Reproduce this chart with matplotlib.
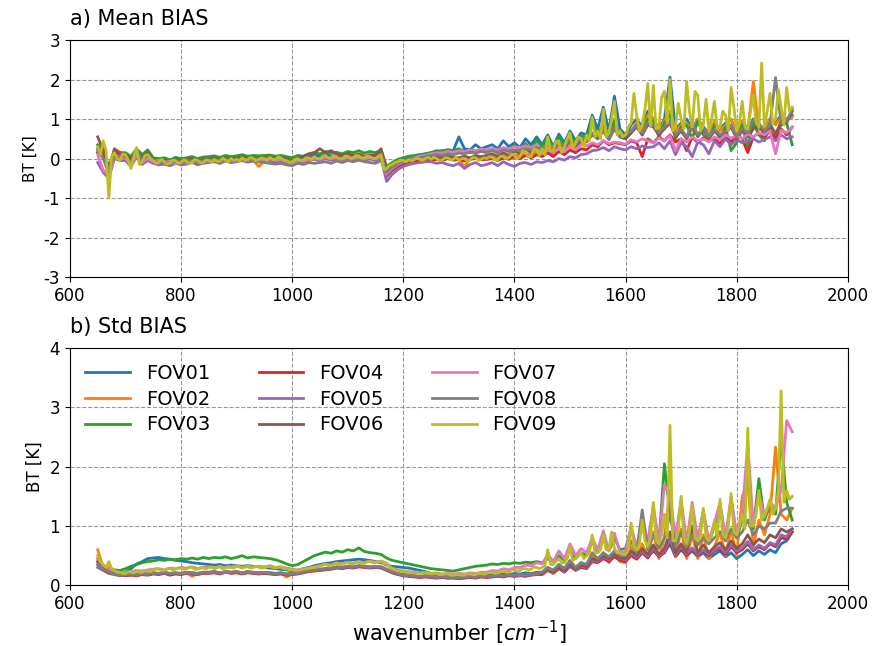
import numpy as np
import matplotlib
matplotlib.use("Agg")
import matplotlib.pyplot as plt

plt.rcParams['axes.unicode_minus'] = False

# spectral channels, cm-1 (FOV09 is kept at full resolution)
wavenumber = np.arange(650, 1901, 10)
wavenumber_fine = np.arange(650, 1901, 5)

fov_names = ['FOV01', 'FOV02', 'FOV03', 'FOV04', 'FOV05',
             'FOV06', 'FOV07', 'FOV08', 'FOV09']

# mean O-B bias per FOV [K]
mean_fov01 = [0.25, 0.15, -0.35, 0.12, 0.08, 0.10, -0.05, 0.18, 0.00, 0.15,
              -0.02, -0.06, -0.04, -0.08, -0.02, -0.06, -0.03, 0.00, -0.05, -0.02,
              -0.02, 0.02, -0.03, 0.03, 0.00, 0.02, 0.05, 0.00, 0.03, 0.02,
              0.04, 0.06, 0.01, 0.04, 0.00, -0.04, 0.03, 0.00, 0.06, 0.10,
              0.05, 0.12, 0.06, 0.09, 0.04, 0.10, 0.06, 0.10, 0.05, 0.08,
              0.05, 0.15, -0.28, -0.15, -0.08, -0.04, 0.02, 0.06, 0.10, 0.12,
              0.15, 0.20, 0.18, 0.22, 0.20, 0.55, 0.25, 0.22, 0.35, 0.25,
              0.30, 0.35, 0.25, 0.45, 0.30, 0.40, 0.28, 0.50, 0.35, 0.55,
              0.35, 0.60, 0.30, 0.62, 0.40, 0.70, 0.45, 0.65, 0.60, 1.10,
              0.75, 1.30, 0.70, 1.58, 0.75, 0.60, 0.85, 1.00, 0.80, 1.20,
              1.00, 0.75, 1.00, 2.06, 0.75, 0.90, 1.00, 0.75, 1.00, 0.80,
              0.65, 0.90, 0.75, 0.90, 1.00, 0.65, 0.95, 0.75, 1.00, 0.75,
              0.75, 1.00, 0.90, 1.10, 1.00, 1.10]
mean_fov02 = [0.20, 0.05, -0.45, 0.05, 0.00, 0.05, -0.15, 0.20, -0.10, 0.05,
              -0.10, -0.15, -0.12, -0.18, -0.10, -0.14, -0.12, -0.08, -0.16, -0.10,
              -0.08, -0.05, -0.12, -0.04, -0.10, -0.06, -0.02, -0.08, -0.05, -0.20,
              -0.06, -0.03, -0.08, -0.04, -0.10, -0.14, -0.06, -0.10, -0.04, 0.00,
              -0.04, 0.02, -0.02, 0.00, -0.05, 0.02, -0.03, 0.00, -0.04, 0.00,
              -0.04, 0.05, -0.35, -0.25, -0.15, -0.10, -0.06, -0.04, -0.02, 0.00,
              0.00, 0.02, -0.02, 0.04, 0.00, 0.02, -0.22, 0.00, 0.04, 0.02,
              0.04, 0.06, 0.00, 0.08, 0.03, 0.10, 0.06, 0.14, 0.08, 0.18,
              0.12, 0.25, 0.10, 0.30, 0.18, 0.38, 0.25, 0.42, 0.45, 0.95,
              0.60, 0.90, 0.55, 1.00, 0.60, 0.55, 0.70, 0.90, 0.75, 1.10,
              1.00, 0.70, 0.95, 1.20, 0.70, 0.85, 0.90, 0.70, 1.00, 0.75,
              0.60, 0.95, 0.70, 0.85, 1.00, 0.60, 0.95, 0.70, 1.95, 0.75,
              0.70, 1.00, 0.85, 1.05, 1.00, 1.05]
mean_fov03 = [0.35, 0.20, -0.20, 0.20, 0.15, 0.15, 0.05, 0.25, 0.10, 0.22,
              0.02, 0.00, 0.02, -0.03, 0.03, 0.00, 0.02, 0.05, 0.00, 0.04,
              0.05, 0.07, 0.03, 0.08, 0.05, 0.07, 0.10, 0.06, 0.08, 0.07,
              0.08, 0.09, 0.06, 0.08, 0.05, 0.02, 0.08, 0.06, 0.12, 0.15,
              0.12, 0.18, 0.14, 0.16, 0.12, 0.18, 0.15, 0.20, 0.14, 0.18,
              0.15, 0.22, -0.20, -0.10, -0.02, 0.02, 0.06, 0.08, 0.10, 0.12,
              0.15, 0.18, 0.20, 0.22, 0.20, 0.25, 0.18, 0.15, 0.20, 0.18,
              0.16, 0.22, 0.15, 0.25, 0.18, 0.35, 0.20, 0.38, 0.25, 0.45,
              0.30, 0.52, 0.30, 0.55, 0.35, 0.60, 0.40, 0.58, 0.52, 1.00,
              0.55, 0.85, 0.50, 0.95, 0.55, 0.50, 0.65, 0.85, 0.60, 1.00,
              0.95, 0.55, 0.90, 1.10, 0.50, 0.80, 0.85, 0.50, 0.95, 0.60,
              0.45, 0.85, 0.50, 0.80, 0.20, 0.40, 0.85, 0.30, 0.90, 0.60,
              0.45, 0.90, 0.60, 0.95, 0.90, 0.35]
mean_fov04 = [0.15, 0.25, -0.40, 0.20, 0.10, 0.05, -0.10, 0.15, -0.05, 0.08,
              -0.05, -0.08, -0.06, -0.10, -0.04, -0.08, -0.06, -0.03, -0.08, -0.04,
              -0.04, -0.02, -0.06, 0.00, -0.04, -0.02, 0.02, -0.03, 0.00, -0.02,
              0.00, 0.02, -0.03, 0.00, -0.06, -0.10, -0.02, -0.05, 0.00, 0.03,
              0.00, 0.06, 0.02, 0.04, 0.00, 0.05, 0.02, 0.06, 0.02, 0.05,
              0.02, 0.08, -0.45, -0.30, -0.20, -0.14, -0.10, -0.08, -0.06, -0.04,
              -0.04, -0.02, -0.05, 0.00, -0.04, -0.02, -0.06, -0.02, 0.00, -0.03,
              -0.02, 0.00, -0.05, 0.02, -0.02, 0.05, 0.00, 0.08, 0.02, 0.10,
              0.05, 0.15, 0.05, 0.18, 0.10, 0.22, 0.15, 0.25, 0.22, 0.35,
              0.30, 0.45, 0.35, 0.40, 0.38, 0.35, 0.45, 0.40, 0.05, 0.50,
              0.40, 0.55, 0.45, 0.60, 0.42, 0.50, 0.20, 0.55, 0.40, 0.52,
              0.45, 0.50, 0.38, 0.55, 0.42, 0.60, 0.50, 0.15, 0.55, 0.65,
              0.55, 0.70, 0.50, 0.75, 0.60, 0.80]
mean_fov05 = [-0.10, -0.35, -0.50, 0.00, -0.05, -0.05, -0.20, 0.05, -0.15, -0.05,
              -0.12, -0.16, -0.14, -0.18, -0.12, -0.16, -0.14, -0.10, -0.15, -0.12,
              -0.10, -0.08, -0.12, -0.06, -0.10, -0.08, -0.05, -0.09, -0.06, -0.08,
              -0.06, -0.05, -0.09, -0.06, -0.12, -0.15, -0.08, -0.10, -0.05, -0.02,
              -0.05, 0.00, -0.04, -0.02, -0.06, 0.00, -0.03, 0.01, -0.04, -0.01,
              -0.05, 0.00, -0.58, -0.40, -0.28, -0.20, -0.15, -0.12, -0.10, -0.08,
              -0.08, -0.12, -0.10, -0.15, -0.18, -0.12, -0.25, -0.15, -0.10, -0.18,
              -0.15, -0.10, -0.18, -0.08, -0.15, -0.20, -0.12, -0.10, -0.15, -0.08,
              -0.10, -0.05, -0.08, 0.00, -0.04, 0.05, 0.02, 0.10, 0.12, 0.20,
              0.22, 0.28, 0.20, 0.30, 0.25, 0.22, 0.30, 0.25, 0.32, 0.28,
              0.30, 0.40, 0.25, 0.45, 0.10, 0.40, 0.30, 0.05, 0.42, 0.35,
              0.12, 0.45, 0.30, 0.50, 0.35, 0.48, 0.40, 0.45, 0.50, 0.42,
              0.48, 0.55, 0.45, 0.60, 0.50, 0.55]
mean_fov06 = [0.55, 0.20, -0.30, 0.25, 0.15, 0.10, 0.00, 0.20, 0.05, 0.15,
              -0.03, -0.06, -0.04, -0.08, -0.02, -0.06, -0.03, 0.00, -0.05, -0.02,
              -0.02, 0.01, -0.03, 0.02, -0.01, 0.01, 0.04, 0.00, 0.02, 0.01,
              0.02, 0.04, 0.00, 0.03, -0.02, -0.05, 0.02, 0.05, 0.12, 0.15,
              0.25, 0.15, 0.20, 0.12, 0.08, 0.12, 0.08, 0.12, 0.06, 0.10,
              0.08, 0.25, -0.30, -0.18, -0.10, -0.06, -0.03, 0.00, 0.02, 0.04,
              0.04, 0.06, 0.02, 0.07, 0.04, 0.02, 0.06, 0.02, 0.08, 0.05,
              0.08, 0.12, 0.06, 0.15, 0.08, 0.20, 0.12, 0.25, 0.15, 0.30,
              0.20, 0.35, 0.22, 0.40, 0.28, 0.45, 0.32, 0.45, 0.42, 0.60,
              0.50, 0.70, 0.48, 0.75, 0.55, 0.50, 0.65, 0.80, 0.60, 0.85,
              0.80, 0.60, 0.75, 0.90, 0.55, 0.70, 0.50, 0.85, 0.55, 0.75,
              0.50, 0.70, 0.55, 0.65, 0.80, 0.50, 0.70, 0.55, 0.75, 0.85,
              0.60, 0.80, 0.65, 0.85, 0.90, 1.20]
mean_fov07 = [0.10, -0.30, -0.40, 0.05, 0.00, 0.02, -0.15, 0.10, -0.10, 0.00,
              -0.08, -0.04, -0.10, -0.06, -0.12, -0.08, -0.05, -0.10, -0.06, -0.08,
              -0.06, -0.04, -0.08, -0.03, -0.06, -0.04, -0.01, -0.05, -0.02, -0.04,
              -0.02, 0.00, -0.04, -0.02, -0.08, -0.12, -0.04, -0.06, -0.02, 0.02,
              -0.02, 0.04, 0.00, 0.02, -0.02, 0.04, 0.00, 0.04, 0.00, 0.03,
              0.00, 0.06, -0.40, -0.25, -0.15, -0.08, -0.02, 0.02, 0.06, 0.08,
              0.12, 0.15, 0.14, 0.18, 0.16, 0.20, 0.18, 0.22, 0.20, 0.24,
              0.22, 0.26, 0.22, 0.28, 0.25, 0.30, 0.28, 0.32, 0.28, 0.35,
              0.12, 0.22, 0.15, 0.25, 0.18, 0.30, 0.22, 0.35, 0.32, 0.40,
              0.35, 0.45, 0.38, 0.42, 0.40, 0.36, 0.48, 0.42, 0.50, 0.45,
              0.40, 0.52, 0.45, 0.58, 0.20, 0.50, 0.42, 0.55, 0.45, 0.50,
              0.42, 0.55, 0.48, 0.60, 0.52, 0.58, 0.50, 0.62, 0.55, 0.65,
              0.60, 0.70, 0.12, 0.72, 0.65, 0.80]
mean_fov08 = [0.20, 0.00, -0.35, 0.10, 0.05, 0.05, -0.10, 0.20, -0.05, 0.10,
              -0.06, -0.10, -0.08, -0.12, -0.06, -0.10, -0.08, -0.05, -0.10, -0.06,
              -0.06, -0.04, -0.08, -0.02, -0.06, -0.04, -0.02, -0.06, -0.04, -0.08,
              -0.10, -0.12, -0.14, -0.12, -0.16, -0.18, -0.12, -0.15, -0.10, -0.12,
              -0.10, -0.08, -0.12, -0.06, -0.10, -0.05, -0.08, -0.04, -0.08, -0.10,
              -0.12, -0.05, -0.35, -0.22, -0.12, -0.06, -0.02, 0.00, 0.02, 0.05,
              0.08, 0.10, 0.08, 0.12, 0.10, 0.14, 0.12, 0.16, 0.14, 0.18,
              0.16, 0.20, 0.15, 0.22, 0.18, 0.22, 0.20, 0.25, 0.22, 0.28,
              0.25, 0.40, 0.28, 0.42, 0.32, 0.48, 0.35, 0.50, 0.45, 0.65,
              0.55, 0.75, 0.50, 0.80, 0.55, 0.60, 0.70, 0.85, 0.65, 0.90,
              0.85, 0.65, 0.80, 0.95, 0.60, 0.75, 0.55, 0.90, 0.60, 0.80,
              0.55, 0.75, 0.60, 0.70, 0.85, 0.55, 0.75, 0.65, 1.00, 0.90,
              0.70, 0.85, 2.05, 0.90, 0.95, 1.25]
mean_fov09 = [0.30, 0.10, 0.45, 0.20, -1.00, 0.05, 0.15, 0.00, -0.05, 0.12,
              0.10, -0.05, -0.25, 0.05, 0.28, -0.15, -0.08, 0.08, 0.10, 0.00,
              -0.05, -0.12, -0.10, -0.02, -0.08, -0.14, -0.12, -0.04, -0.05, -0.12,
              -0.10, -0.03, -0.08, -0.13, -0.08, -0.02, -0.05, -0.11, -0.10, -0.03,
              -0.05, -0.09, -0.02, -0.07, -0.06, 0.01, -0.04, -0.08, 0.00, -0.05,
              -0.02, -0.07, 0.02, -0.04, -0.03, 0.03, 0.00, -0.06, -0.02, 0.02,
              0.00, -0.05, 0.03, -0.02, -0.02, 0.04, 0.02, -0.04, -0.05, -0.09,
              -0.08, -0.02, 0.00, -0.05, -0.03, 0.02, 0.02, -0.03, 0.05, 0.00,
              0.00, 0.06, 0.08, 0.01, 0.02, 0.07, 0.05, -0.01, 0.00, 0.06,
              0.06, 0.00, 0.03, 0.08, 0.07, 0.01, 0.02, 0.07, 0.05, 0.00,
              0.00, 0.06, 0.10, -0.28, -0.25, -0.18, -0.15, -0.10, -0.08, -0.04,
              -0.05, -0.08, -0.03, -0.06, -0.02, 0.01, -0.02, -0.04, 0.00, 0.03,
              -0.02, 0.03, 0.00, -0.05, -0.04, 0.02, 0.02, -0.03, -0.02, 0.04,
              -0.05, 0.00, 0.00, -0.06, -0.04, 0.03, 0.02, -0.04, -0.02, 0.02,
              0.00, 0.05, 0.03, -0.03, -0.03, 0.06, 0.05, 0.00, 0.02, 0.12,
              0.08, 0.00, 0.05, 0.20, 0.15, 0.05, 0.05, 0.25, 0.22, 0.08,
              0.25, 0.10, 0.55, 0.20, 0.20, 0.45, 0.40, 0.15, 0.30, 0.50,
              0.65, 0.25, 0.40, 0.55, 0.50, 0.30, 0.60, 0.45, 1.05, 0.55,
              0.70, 0.50, 1.25, 0.55, 0.65, 1.00, 1.45, 0.60, 0.70, 0.55,
              0.60, 0.80, 0.90, 1.65, 1.10, 0.70, 0.85, 1.25, 1.90, 0.80,
              1.85, 0.75, 0.80, 1.55, 1.70, 0.90, 2.00, 0.70, 0.80, 1.40,
              1.00, 0.75, 1.95, 1.20, 0.80, 1.70, 1.60, 0.70, 0.85, 1.50,
              0.70, 1.00, 1.45, 0.75, 0.80, 1.20, 1.10, 0.70, 1.80, 1.30,
              0.70, 0.90, 1.45, 0.80, 0.75, 1.20, 1.60, 0.90, 0.80, 2.42,
              0.80, 1.20, 1.65, 0.90, 1.00, 1.75, 1.30, 0.85, 1.80, 1.20,
              1.30]

# standard deviation of O-B per FOV [K]
std_fov01 = [0.35, 0.28, 0.25, 0.22, 0.20, 0.22, 0.28, 0.36, 0.40, 0.45,
             0.46, 0.47, 0.45, 0.44, 0.42, 0.41, 0.40, 0.38, 0.37, 0.36,
             0.35, 0.34, 0.35, 0.33, 0.34, 0.33, 0.32, 0.33, 0.32, 0.31,
             0.30, 0.29, 0.28, 0.27, 0.26, 0.24, 0.25, 0.28, 0.30, 0.33,
             0.35, 0.37, 0.38, 0.40, 0.41, 0.42, 0.43, 0.44, 0.43, 0.42,
             0.40, 0.38, 0.34, 0.32, 0.31, 0.30, 0.29, 0.27, 0.25, 0.23,
             0.20, 0.18, 0.17, 0.16, 0.15, 0.15, 0.16, 0.15, 0.16, 0.17,
             0.17, 0.18, 0.17, 0.19, 0.18, 0.20, 0.19, 0.21, 0.20, 0.22,
             0.22, 0.30, 0.25, 0.35, 0.28, 0.40, 0.30, 0.38, 0.35, 0.50,
             0.40, 0.48, 0.42, 0.50, 0.45, 0.42, 0.52, 0.45, 0.55, 0.48,
             0.58, 0.50, 0.55, 0.70, 0.48, 0.60, 0.50, 0.58, 0.48, 0.55,
             0.45, 0.52, 0.58, 0.48, 0.55, 0.45, 0.52, 0.60, 0.50, 0.58,
             0.52, 0.60, 0.55, 0.70, 0.75, 0.90]
std_fov02 = [0.60, 0.30, 0.25, 0.20, 0.18, 0.17, 0.18, 0.17, 0.19, 0.18,
             0.20, 0.19, 0.21, 0.18, 0.20, 0.19, 0.21, 0.15, 0.20, 0.22,
             0.21, 0.22, 0.20, 0.23, 0.21, 0.22, 0.20, 0.22, 0.21, 0.20,
             0.21, 0.20, 0.19, 0.20, 0.14, 0.19, 0.20, 0.22, 0.24, 0.25,
             0.26, 0.27, 0.28, 0.30, 0.29, 0.31, 0.30, 0.32, 0.31, 0.30,
             0.31, 0.30, 0.26, 0.22, 0.19, 0.17, 0.16, 0.15, 0.14, 0.15,
             0.14, 0.13, 0.14, 0.12, 0.13, 0.12, 0.13, 0.14, 0.13, 0.15,
             0.14, 0.15, 0.16, 0.15, 0.17, 0.16, 0.18, 0.17, 0.19, 0.20,
             0.20, 0.28, 0.22, 0.32, 0.25, 0.40, 0.28, 0.36, 0.32, 0.50,
             0.40, 0.55, 0.38, 0.52, 0.40, 0.38, 0.65, 0.45, 0.70, 0.48,
             0.90, 0.45, 0.80, 1.60, 0.48, 0.95, 0.45, 0.85, 0.45, 0.85,
             0.45, 0.65, 0.90, 0.50, 0.95, 0.50, 1.50, 1.70, 0.65, 1.10,
             0.85, 1.20, 2.33, 1.20, 1.10, 1.30]
std_fov03 = [0.45, 0.32, 0.30, 0.26, 0.25, 0.28, 0.32, 0.35, 0.38, 0.40,
             0.41, 0.43, 0.42, 0.44, 0.43, 0.45, 0.44, 0.46, 0.44, 0.47,
             0.45, 0.47, 0.46, 0.48, 0.45, 0.47, 0.50, 0.46, 0.48, 0.47,
             0.46, 0.45, 0.43, 0.40, 0.36, 0.33, 0.35, 0.40, 0.45, 0.50,
             0.53, 0.56, 0.54, 0.58, 0.56, 0.60, 0.58, 0.63, 0.57, 0.55,
             0.54, 0.52, 0.46, 0.42, 0.40, 0.38, 0.36, 0.34, 0.32, 0.30,
             0.28, 0.27, 0.26, 0.25, 0.24, 0.26, 0.28, 0.30, 0.32, 0.33,
             0.34, 0.36, 0.35, 0.37, 0.36, 0.38, 0.37, 0.39, 0.38, 0.40,
             0.38, 0.45, 0.40, 0.50, 0.42, 0.60, 0.45, 0.55, 0.50, 0.75,
             0.55, 0.78, 0.58, 0.80, 0.60, 0.62, 0.95, 0.65, 1.00, 0.70,
             1.30, 0.70, 2.05, 1.20, 0.75, 1.40, 0.70, 1.30, 0.75, 1.25,
             0.70, 1.00, 1.35, 0.75, 1.45, 0.80, 1.10, 2.00, 0.95, 1.80,
             1.10, 1.35, 1.20, 2.50, 1.40, 1.10]
std_fov04 = [0.40, 0.28, 0.22, 0.19, 0.17, 0.16, 0.17, 0.16, 0.18, 0.17,
             0.19, 0.18, 0.20, 0.17, 0.19, 0.18, 0.20, 0.19, 0.18, 0.20,
             0.20, 0.21, 0.19, 0.22, 0.20, 0.21, 0.19, 0.21, 0.20, 0.19,
             0.20, 0.19, 0.18, 0.19, 0.17, 0.18, 0.19, 0.21, 0.23, 0.24,
             0.25, 0.26, 0.27, 0.29, 0.28, 0.30, 0.29, 0.31, 0.30, 0.29,
             0.30, 0.29, 0.25, 0.21, 0.18, 0.16, 0.15, 0.14, 0.13, 0.14,
             0.13, 0.12, 0.13, 0.12, 0.12, 0.11, 0.12, 0.13, 0.12, 0.14,
             0.13, 0.14, 0.15, 0.14, 0.16, 0.15, 0.16, 0.15, 0.17, 0.18,
             0.18, 0.25, 0.20, 0.28, 0.22, 0.32, 0.25, 0.30, 0.28, 0.40,
             0.38, 0.45, 0.40, 0.48, 0.42, 0.40, 0.50, 0.44, 0.55, 0.46,
             0.60, 0.48, 0.55, 0.75, 0.50, 0.62, 0.50, 0.60, 0.50, 0.58,
             0.50, 0.58, 0.62, 0.52, 0.65, 0.55, 0.60, 0.70, 0.58, 0.65,
             0.60, 0.70, 0.65, 0.80, 0.78, 0.90]
std_fov05 = [0.30, 0.25, 0.20, 0.18, 0.16, 0.17, 0.18, 0.17, 0.19, 0.18,
             0.20, 0.19, 0.21, 0.19, 0.20, 0.19, 0.21, 0.20, 0.19, 0.21,
             0.21, 0.22, 0.20, 0.22, 0.21, 0.22, 0.20, 0.22, 0.21, 0.20,
             0.21, 0.20, 0.19, 0.20, 0.18, 0.19, 0.20, 0.22, 0.24, 0.25,
             0.26, 0.27, 0.28, 0.30, 0.29, 0.31, 0.30, 0.32, 0.31, 0.30,
             0.31, 0.30, 0.26, 0.22, 0.19, 0.17, 0.16, 0.15, 0.14, 0.15,
             0.14, 0.13, 0.14, 0.13, 0.13, 0.12, 0.13, 0.14, 0.13, 0.15,
             0.14, 0.15, 0.16, 0.15, 0.17, 0.16, 0.17, 0.16, 0.18, 0.19,
             0.19, 0.26, 0.21, 0.30, 0.23, 0.34, 0.26, 0.32, 0.30, 0.42,
             0.40, 0.48, 0.43, 0.52, 0.45, 0.43, 0.54, 0.47, 0.58, 0.49,
             0.63, 0.50, 0.58, 0.78, 0.52, 0.65, 0.53, 0.63, 0.52, 0.60,
             0.52, 0.60, 0.65, 0.55, 0.68, 0.58, 0.63, 0.74, 0.60, 0.68,
             0.62, 0.72, 0.68, 0.85, 0.82, 0.95]
std_fov06 = [0.40, 0.26, 0.21, 0.19, 0.17, 0.18, 0.19, 0.18, 0.20, 0.19,
             0.21, 0.20, 0.22, 0.20, 0.21, 0.20, 0.22, 0.21, 0.20, 0.22,
             0.22, 0.23, 0.21, 0.23, 0.22, 0.23, 0.21, 0.23, 0.22, 0.21,
             0.22, 0.21, 0.20, 0.21, 0.19, 0.20, 0.21, 0.23, 0.25, 0.26,
             0.27, 0.28, 0.29, 0.31, 0.30, 0.32, 0.31, 0.33, 0.32, 0.31,
             0.32, 0.31, 0.27, 0.23, 0.20, 0.18, 0.17, 0.16, 0.15, 0.16,
             0.15, 0.14, 0.15, 0.14, 0.14, 0.13, 0.14, 0.15, 0.14, 0.16,
             0.15, 0.16, 0.17, 0.16, 0.18, 0.17, 0.18, 0.17, 0.19, 0.20,
             0.20, 0.27, 0.22, 0.31, 0.24, 0.36, 0.27, 0.34, 0.31, 0.45,
             0.42, 0.50, 0.45, 0.52, 0.46, 0.45, 0.58, 0.50, 0.62, 0.52,
             0.68, 0.52, 0.62, 0.90, 0.55, 0.70, 0.55, 1.00, 0.55, 0.68,
             0.55, 0.65, 0.72, 0.60, 0.75, 0.62, 0.70, 0.85, 0.68, 0.78,
             0.72, 0.85, 0.80, 0.95, 0.90, 0.95]
std_fov07 = [0.45, 0.33, 0.30, 0.24, 0.22, 0.21, 0.23, 0.25, 0.24, 0.26,
             0.27, 0.28, 0.26, 0.29, 0.28, 0.30, 0.29, 0.31, 0.28, 0.30,
             0.31, 0.29, 0.32, 0.30, 0.31, 0.33, 0.30, 0.32, 0.31, 0.32,
             0.31, 0.33, 0.30, 0.31, 0.29, 0.27, 0.26, 0.28, 0.29, 0.31,
             0.33, 0.36, 0.34, 0.38, 0.36, 0.39, 0.37, 0.40, 0.38, 0.41,
             0.39, 0.41, 0.37, 0.29, 0.26, 0.24, 0.23, 0.22, 0.21, 0.22,
             0.20, 0.21, 0.19, 0.20, 0.19, 0.20, 0.19, 0.21, 0.20, 0.22,
             0.22, 0.25, 0.24, 0.28, 0.26, 0.30, 0.30, 0.34, 0.33, 0.38,
             0.36, 0.52, 0.40, 0.58, 0.45, 0.70, 0.50, 0.62, 0.55, 0.80,
             0.60, 0.92, 0.58, 0.88, 0.55, 0.56, 1.00, 0.62, 1.15, 0.72,
             1.35, 0.70, 1.70, 1.50, 0.80, 1.45, 0.72, 1.40, 0.75, 1.25,
             0.75, 1.05, 1.40, 0.80, 1.50, 0.85, 1.20, 2.40, 1.00, 1.55,
             1.15, 1.40, 1.30, 1.60, 2.78, 2.59]
std_fov08 = [0.35, 0.27, 0.22, 0.19, 0.17, 0.18, 0.19, 0.18, 0.20, 0.19,
             0.21, 0.20, 0.22, 0.20, 0.21, 0.20, 0.22, 0.21, 0.20, 0.22,
             0.22, 0.23, 0.21, 0.23, 0.22, 0.23, 0.21, 0.23, 0.22, 0.21,
             0.22, 0.21, 0.20, 0.21, 0.19, 0.20, 0.21, 0.23, 0.25, 0.26,
             0.27, 0.28, 0.29, 0.31, 0.30, 0.32, 0.31, 0.33, 0.32, 0.31,
             0.32, 0.31, 0.27, 0.23, 0.20, 0.18, 0.17, 0.16, 0.15, 0.16,
             0.15, 0.14, 0.15, 0.14, 0.14, 0.13, 0.14, 0.15, 0.14, 0.16,
             0.15, 0.16, 0.17, 0.16, 0.18, 0.17, 0.18, 0.17, 0.19, 0.20,
             0.22, 0.30, 0.25, 0.35, 0.28, 0.42, 0.30, 0.38, 0.35, 0.55,
             0.45, 0.55, 0.48, 0.58, 0.50, 0.50, 0.75, 0.55, 1.27, 0.60,
             0.85, 0.62, 0.80, 1.20, 0.65, 0.90, 0.65, 0.85, 0.68, 0.80,
             0.70, 0.80, 0.90, 0.75, 0.95, 0.80, 0.90, 1.10, 0.85, 1.00,
             0.95, 1.05, 1.05, 1.25, 1.30, 1.30]
std_fov09 = [0.50, 0.40, 0.35, 0.30, 0.40, 0.28, 0.25, 0.22, 0.22, 0.20,
             0.20, 0.23, 0.22, 0.21, 0.24, 0.22, 0.22, 0.25, 0.25, 0.23,
             0.26, 0.28, 0.27, 0.25, 0.25, 0.28, 0.28, 0.26, 0.27, 0.29,
             0.29, 0.27, 0.28, 0.31, 0.30, 0.27, 0.27, 0.30, 0.29, 0.28,
             0.30, 0.31, 0.28, 0.30, 0.31, 0.28, 0.29, 0.32, 0.30, 0.29,
             0.32, 0.31, 0.29, 0.31, 0.31, 0.29, 0.30, 0.32, 0.31, 0.29,
             0.30, 0.31, 0.32, 0.30, 0.29, 0.31, 0.30, 0.28, 0.28, 0.26,
             0.26, 0.25, 0.25, 0.26, 0.27, 0.28, 0.28, 0.30, 0.30, 0.31,
             0.32, 0.34, 0.35, 0.33, 0.33, 0.36, 0.37, 0.35, 0.35, 0.38,
             0.38, 0.36, 0.36, 0.39, 0.39, 0.37, 0.37, 0.40, 0.40, 0.38,
             0.38, 0.40, 0.40, 0.36, 0.36, 0.30, 0.28, 0.26, 0.25, 0.24,
             0.23, 0.23, 0.22, 0.21, 0.21, 0.22, 0.20, 0.21, 0.21, 0.20,
             0.19, 0.20, 0.20, 0.18, 0.18, 0.19, 0.19, 0.17, 0.17, 0.18,
             0.18, 0.17, 0.17, 0.19, 0.19, 0.18, 0.18, 0.20, 0.20, 0.19,
             0.20, 0.22, 0.22, 0.20, 0.21, 0.23, 0.24, 0.22, 0.22, 0.26,
             0.26, 0.24, 0.25, 0.28, 0.28, 0.26, 0.27, 0.31, 0.30, 0.28,
             0.30, 0.33, 0.60, 0.35, 0.35, 0.40, 0.45, 0.38, 0.38, 0.45,
             0.65, 0.42, 0.45, 0.50, 0.55, 0.45, 0.50, 0.55, 0.85, 0.55,
             0.55, 0.60, 0.85, 0.60, 0.60, 0.90, 0.62, 0.55, 0.55, 0.52,
             0.52, 0.60, 1.05, 0.65, 0.60, 0.70, 1.10, 0.75, 0.65, 0.80,
             1.40, 0.75, 0.70, 0.85, 1.20, 0.80, 2.70, 0.75, 0.75, 0.95,
             1.50, 0.80, 0.70, 0.90, 1.35, 0.80, 0.75, 0.85, 1.30, 0.80,
             0.75, 0.85, 1.10, 0.80, 1.45, 0.85, 0.80, 1.00, 1.55, 0.90,
             0.85, 1.00, 1.20, 0.95, 2.65, 1.00, 1.00, 1.20, 1.60, 1.10,
             1.20, 1.30, 1.45, 1.20, 1.30, 1.60, 3.28, 1.40, 1.60, 1.45,
             1.50]

mean_all = [mean_fov01, mean_fov02, mean_fov03, mean_fov04, mean_fov05,
            mean_fov06, mean_fov07, mean_fov08, mean_fov09]
std_all = [std_fov01, std_fov02, std_fov03, std_fov04, std_fov05,
           std_fov06, std_fov07, std_fov08, std_fov09]

fig = plt.figure(figsize=(8.74, 6.46), dpi=100)
ax1 = fig.add_axes([0.080, 0.571, 0.890, 0.367])
ax2 = fig.add_axes([0.080, 0.094, 0.890, 0.367])


def channels(vals):
    return wavenumber_fine if len(vals) == len(wavenumber_fine) else wavenumber


# a) mean bias
for name, vals in zip(fov_names, mean_all):
    ax1.plot(channels(vals), vals, lw=2, label=name)
ax1.set_xlim(600, 2000)
ax1.set_ylim(-3, 3)
ax1.set_xticks(range(600, 2001, 200))
ax1.set_yticks(range(-3, 4))
ax1.set_ylabel('BT [K]', fontsize=11)
ax1.set_title('a) Mean BIAS', loc='left', fontsize=15, pad=11)
ax1.grid(True, ls='--', color='grey', lw=0.8, alpha=0.8)

# b) std
for name, vals in zip(fov_names, std_all):
    ax2.plot(channels(vals), vals, lw=2, label=name)
ax2.set_xlim(600, 2000)
ax2.set_ylim(0, 4)
ax2.set_xticks(range(600, 2001, 200))
ax2.set_yticks(range(0, 5))
ax2.set_ylabel('BT [K]', fontsize=12)
ax2.set_xlabel(r'wavenumber [$cm^{-1}$]', fontsize=15)
ax2.set_title('b) Std BIAS', loc='left', fontsize=15, pad=11)
ax2.grid(True, ls='--', color='grey', lw=0.8, alpha=0.8)
ax2.legend(ncol=3, loc='upper left', fontsize=14, frameon=False,
           handlelength=2.3, handletextpad=0.8, columnspacing=2.5,
           labelspacing=0.35, borderaxespad=0.4)

for ax in (ax1, ax2):
    ax.tick_params(labelsize=12)

plt.savefig('out.png', dpi=100)
